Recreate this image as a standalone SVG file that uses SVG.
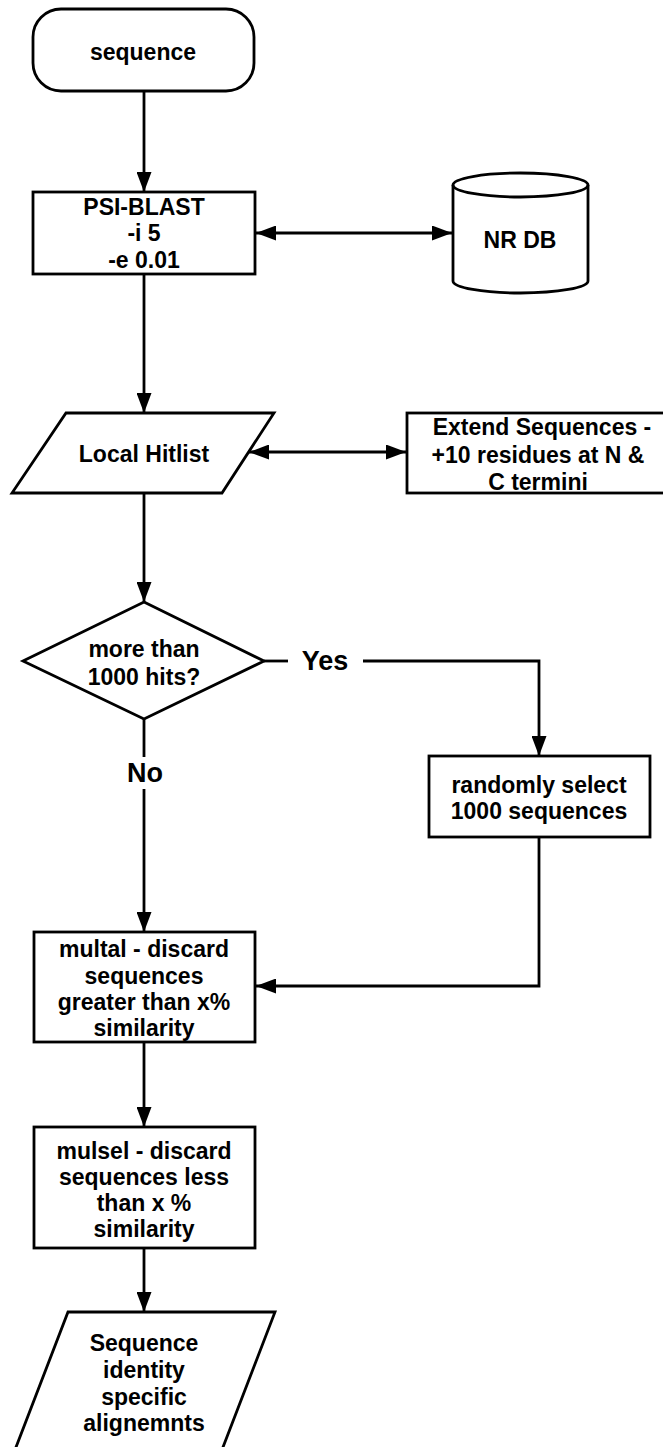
<svg xmlns="http://www.w3.org/2000/svg" width="663" height="1447" viewBox="0 0 663 1447">
<style>
.s{fill:#fff;stroke:#000;stroke-width:2.8;stroke-linejoin:miter}
.c{fill:none;stroke:#000;stroke-width:2.8}
.t{font-family:"Liberation Sans",Arial,sans-serif;font-weight:bold;font-size:23px;text-anchor:middle;fill:#000}
.l{font-family:"Liberation Sans",Arial,sans-serif;font-weight:bold;font-size:27px;text-anchor:middle;fill:#000}
</style>
<defs>
<marker id="ah" markerUnits="userSpaceOnUse" markerWidth="20" markerHeight="15" refX="20" refY="7.5" orient="auto-start-reverse">
<path d="M0,0 L20,7.5 L0,15 Z" fill="#000"/>
</marker>
</defs>
<rect width="663" height="1447" fill="#fff"/>
<g id="connectors">
<line class="c" x1="144" y1="91" x2="144" y2="192" marker-end="url(#ah)"/>
<line class="c" x1="256" y1="233" x2="452" y2="233" marker-start="url(#ah)" marker-end="url(#ah)"/>
<line class="c" x1="144" y1="274" x2="144" y2="413" marker-end="url(#ah)"/>
<line class="c" x1="249" y1="452" x2="406" y2="452" marker-start="url(#ah)" marker-end="url(#ah)"/>
<line class="c" x1="144" y1="493" x2="144" y2="602" marker-end="url(#ah)"/>
<polyline class="c" points="264,661 288,661"/>
<polyline class="c" points="363,661 539,661 539,756" marker-end="url(#ah)"/>
<line class="c" x1="144" y1="719" x2="144" y2="757"/>
<line class="c" x1="144" y1="789" x2="144" y2="932" marker-end="url(#ah)"/>
<polyline class="c" points="539,837 539,986 256,986" marker-end="url(#ah)"/>
<line class="c" x1="144" y1="1042" x2="144" y2="1127" marker-end="url(#ah)"/>
<line class="c" x1="144" y1="1248" x2="144" y2="1312" marker-end="url(#ah)"/>
<text class="l" x="325" y="670">Yes</text>
<text class="l" x="145" y="782">No</text>
</g>
<g id="sequence">
<rect class="s" x="33" y="9" width="221" height="82" rx="28" ry="28"/>
<text class="t" x="143" y="60">sequence</text>
</g>
<g id="psiblast">
<rect class="s" x="33" y="192" width="222" height="82"/>
<text class="t" x="144" y="215">PSI-BLAST</text>
<text class="t" x="144" y="241">-i 5</text>
<text class="t" x="144" y="268">-e 0.01</text>
</g>
<g id="nrdb">
<path class="s" d="M453,185 A67.5,12 0 0 1 588,185 L588,281 A67.5,12 0 0 1 453,281 Z"/>
<path class="c" d="M453,185 A67.5,12 0 0 0 588,185"/>
<text class="t" x="520" y="248">NR DB</text>
</g>
<g id="hitlist">
<polygon class="s" points="66,413 274,413 222,493 12,493"/>
<text class="t" x="144" y="462">Local Hitlist</text>
</g>
<g id="extend">
<rect class="s" x="407" y="413" width="270" height="80"/>
<text class="t" x="542" y="435">Extend Sequences -</text>
<text class="t" x="538" y="463">+10 residues at N &amp;</text>
<text class="t" x="538" y="490">C termini</text>
</g>
<g id="decision">
<polygon class="s" points="144,602 264,661 144,719 23,661"/>
<text class="t" x="144" y="657">more than</text>
<text class="t" x="144" y="685">1000 hits?</text>
</g>
<g id="random">
<rect class="s" x="429" y="756" width="221" height="81"/>
<text class="t" x="539" y="793">randomly select</text>
<text class="t" x="539" y="819">1000 sequences</text>
</g>
<g id="multal">
<rect class="s" x="34" y="932" width="221" height="110"/>
<text class="t" x="144" y="957">multal - discard</text>
<text class="t" x="144" y="984">sequences</text>
<text class="t" x="144" y="1010">greater than x%</text>
<text class="t" x="144" y="1036">similarity</text>
</g>
<g id="mulsel">
<rect class="s" x="34" y="1127" width="221" height="121"/>
<text class="t" x="144" y="1159">mulsel - discard</text>
<text class="t" x="144" y="1185">sequences less</text>
<text class="t" x="144" y="1211">than x %</text>
<text class="t" x="144" y="1237">similarity</text>
</g>
<g id="output">
<polygon class="s" points="68,1312 275,1312 220,1455 13,1455"/>
<text class="t" x="144" y="1351">Sequence</text>
<text class="t" x="144" y="1378">identity</text>
<text class="t" x="144" y="1405">specific</text>
<text class="t" x="144" y="1431">alignemnts</text>
</g>
</svg>
